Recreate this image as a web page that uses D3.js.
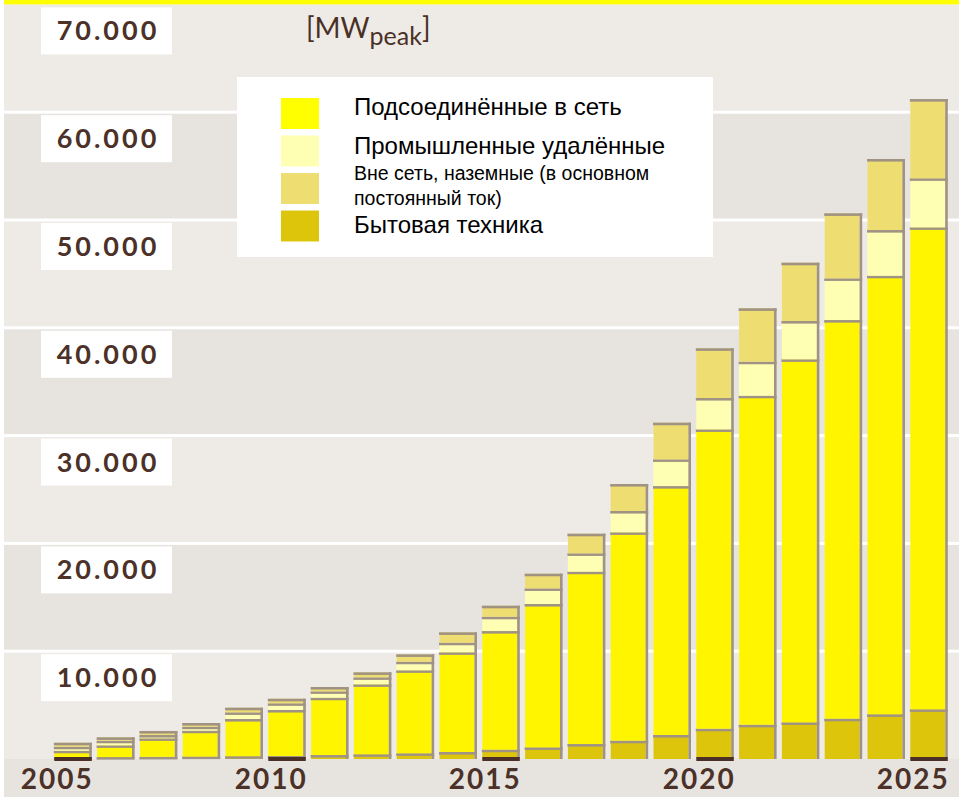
<!DOCTYPE html>
<html>
<head>
<meta charset="utf-8">
<script src="https://cdn.jsdelivr.net/npm/d3@7/dist/d3.min.js"></script>
<style>
  body { margin: 0; background: #ffffff; }
  .tickLabel { font-family: Lato, "Open Sans", sans-serif; font-weight: 700; fill: #4b3128; }
  .legendText { font-family: "Liberation Sans", Arial, sans-serif; fill: #000; }
</style>
</head>
<body>
<div id="chart"></div>
<script>
// Chart data (MW peak)
var years = [2005, 2006, 2007, 2008, 2009, 2010, 2011, 2012, 2013, 2014, 2015,
             2016, 2017, 2018, 2019, 2020, 2021, 2022, 2023, 2024, 2025];
var consumer = [150, 180, 200, 230, 260, 280, 370, 440, 530, 650, 870,
                1080, 1390, 1700, 2230, 2810, 3180, 3400, 3740, 4150, 4610];
var gridConnected = [620, 1090, 1720, 2400, 3450, 4270, 5320, 6490, 7700, 9250, 11000,
                     13300, 15990, 19330, 23090, 27770, 30520, 33680, 36980, 40680, 44710];
var industrial = [370, 430, 310, 370, 620, 620, 590, 650, 800, 890, 1330,
                  1450, 1700, 1980, 2480, 2910, 3160, 3550, 3870, 4240, 4550];
var offGrid = [370, 310, 370, 340, 430, 420, 400, 460, 680, 960, 1020,
               1360, 1820, 2500, 3400, 4610, 4950, 5410, 6030, 6590, 7350];

var yTicks = [10000, 20000, 30000, 40000, 50000, 60000, 70000];
var labelYears = [2005, 2010, 2015, 2020, 2025];

var seriesKeys = ["consumer", "grid", "industrial", "offgrid"];
var seriesColors = { consumer: "#dcc50a", grid: "#fff500", industrial: "#ffffb4", offgrid: "#eedd70" };
var legendKeys = ["grid", "industrial", "offgrid", "consumer"];
var legendLabels = [
  ["Подсоединённые в сеть"],
  ["Промышленные удалённые"],
  ["Вне сеть, наземные (в основном", "постоянный ток)"],
  ["Бытовая техника"]
];
var legendColors = { consumer: "#dcc50a", grid: "#ffff00", industrial: "#ffffb4", offgrid: "#eedd70" };

var svgWidth = 959;
var svgHeight = 797;
var edgeGray = "#a09384";
var brown = "#4a3026";

var svg = d3.select("#chart")
  .append("svg")
  .attr("width", svgWidth)
  .attr("height", svgHeight);

var yScale = d3.scaleLinear().domain([0, 70000]).range([759, 4.4]);
var xScale = d3.scaleBand().domain(years).range([54.3, 947.8]).paddingInner(0.124).paddingOuter(0);

// background bands
var bandStarts = d3.range(0, 70000, 10000);
svg.append("rect")
  .attr("x", 4).attr("y", yScale(0))
  .attr("width", svgWidth - 4).attr("height", svgHeight - yScale(0))
  .attr("fill", "#e7e4e0");
svg.selectAll(".band")
  .data(bandStarts)
  .enter()
  .append("rect")
  .attr("x", 4)
  .attr("y", d => yScale(d + 10000))
  .attr("width", svgWidth - 4)
  .attr("height", d => yScale(d) - yScale(d + 10000))
  .attr("fill", d => (d / 10000) % 2 === 0 ? "#eeebe7" : "#e7e4e0");

// yellow strip at the top
svg.append("rect")
  .attr("x", 4).attr("y", 0)
  .attr("width", svgWidth - 4).attr("height", yScale(70000))
  .attr("fill", "#ffff00");

// white grid lines
svg.selectAll(".gridline")
  .data(yTicks.filter(d => d < 70000))
  .enter()
  .append("rect")
  .attr("x", 4)
  .attr("y", d => yScale(d) - 1.5)
  .attr("width", svgWidth - 4)
  .attr("height", 3)
  .attr("fill", "#ffffff");

// y labels in white boxes
var tickG = svg.selectAll(".ytick")
  .data(yTicks)
  .enter()
  .append("g")
  .attr("transform", d => `translate(41, ${yScale(d) + 3})`);
tickG.append("rect")
  .attr("width", 131).attr("height", 47)
  .attr("fill", "#ffffff");
tickG.append("text")
  .attr("class", "tickLabel")
  .attr("x", 67).attr("y", 33)
  .attr("text-anchor", "middle")
  .style("font-size", "27px")
  .style("letter-spacing", "3px")
  .text(d => d3.format(",")(d).replace(",", "."));

// unit
var unit = svg.append("text")
  .attr("x", 306).attr("y", 38)
  .style("font-family", "Lato, sans-serif")
  .style("font-size", "28px")
  .attr("fill", brown);
unit.append("tspan").text("[MW");
unit.append("tspan").attr("dy", 7).style("font-size", "25px").text("peak");
unit.append("tspan").attr("dy", -7).text("]");

// stacked bars
var table = years.map((yr, i) => ({
  year: yr, consumer: consumer[i], grid: gridConnected[i],
  industrial: industrial[i], offgrid: offGrid[i]
}));
var stacked = d3.stack().keys(seriesKeys)(table);
var bw = xScale.bandwidth();
var shadow = 2.6;

var layers = svg.selectAll(".layer")
  .data(stacked)
  .enter()
  .append("g")
  .attr("fill", d => seriesColors[d.key]);

layers.selectAll("rect")
  .data(d => d)
  .enter()
  .append("rect")
  .attr("x", d => xScale(d.data.year))
  .attr("y", d => yScale(d[1]))
  .attr("width", bw - shadow)
  .attr("height", d => yScale(d[0]) - yScale(d[1]));

// gray top edge of every segment
layers.selectAll(".edge")
  .data(d => d)
  .enter()
  .append("rect")
  .attr("x", d => xScale(d.data.year) - 0.5)
  .attr("y", d => yScale(d[1]))
  .attr("width", bw + 0.5)
  .attr("height", 2.6)
  .attr("fill", edgeGray);

// gray right edge of every bar
var tops = stacked[stacked.length - 1];
svg.selectAll(".sideEdge")
  .data(tops)
  .enter()
  .append("rect")
  .attr("x", d => xScale(d.data.year) + bw - shadow)
  .attr("y", d => yScale(d[1]))
  .attr("width", shadow)
  .attr("height", d => yScale(0) - yScale(d[1]))
  .attr("fill", edgeGray);

// brown marks under labelled years
svg.selectAll(".yearMark")
  .data(labelYears)
  .enter()
  .append("rect")
  .attr("x", d => xScale(d))
  .attr("y", yScale(0) - 2)
  .attr("width", bw)
  .attr("height", 4)
  .attr("fill", brown);

// x labels
svg.selectAll(".xlabel")
  .data(labelYears)
  .enter()
  .append("text")
  .attr("class", "tickLabel")
  .attr("x", d => xScale(d) + bw + 2)
  .attr("y", 789)
  .attr("text-anchor", "end")
  .style("font-size", "28px")
  .style("letter-spacing", "2px")
  .text(d => d);

// legend
var legend = svg.append("g").attr("transform", "translate(237, 77)");
legend.append("rect")
  .attr("width", 476).attr("height", 180)
  .attr("fill", "#ffffff");
var legendRows = legend.selectAll(".lrow")
  .data(legendKeys)
  .enter()
  .append("g")
  .attr("transform", (d, i) => `translate(44, ${21 + i * 37.5})`);
legendRows.append("rect")
  .attr("width", 38).attr("height", 31)
  .attr("fill", d => legendColors[d]);

legend.append("text").attr("class", "legendText")
  .attr("x", 117).attr("y", 38).style("font-size", "24px").text(legendLabels[0][0]);
legend.append("text").attr("class", "legendText")
  .attr("x", 117).attr("y", 77).style("font-size", "24px").text(legendLabels[1][0]);
legend.append("text").attr("class", "legendText")
  .attr("x", 117).attr("y", 103).style("font-size", "19.5px").text(legendLabels[2][0]);
legend.append("text").attr("class", "legendText")
  .attr("x", 117).attr("y", 128).style("font-size", "19.5px").text(legendLabels[2][1]);
legend.append("text").attr("class", "legendText")
  .attr("x", 117).attr("y", 156).style("font-size", "24px").text(legendLabels[3][0]);
</script>
</body>
</html>
